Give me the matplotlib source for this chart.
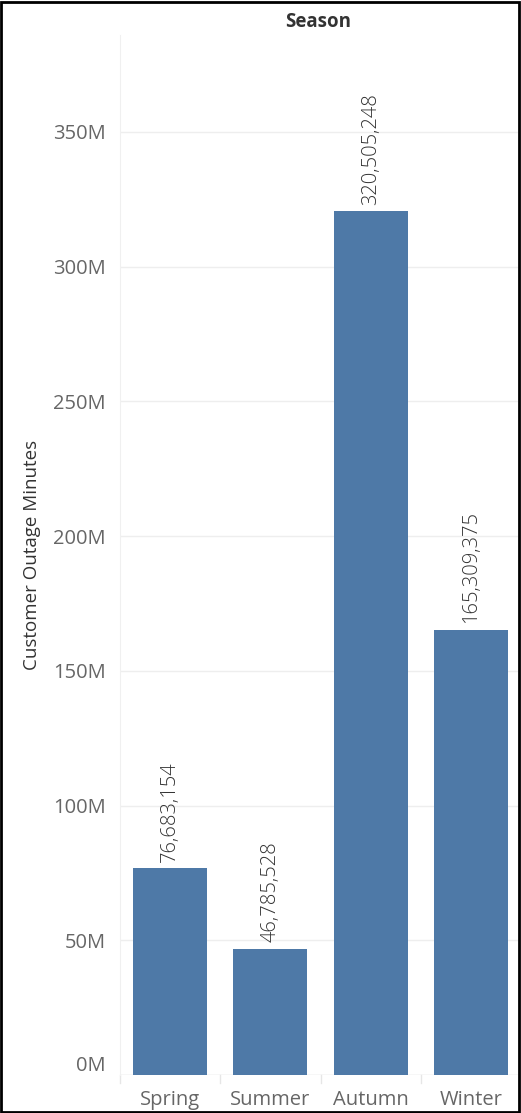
import matplotlib.pyplot as plt
from matplotlib.patches import Rectangle
from matplotlib.ticker import FuncFormatter
import matplotlib.transforms as mtransforms

# outage minutes per season
seasons = ['Spring', 'Summer', 'Autumn', 'Winter']
minutes = [76683154, 46785528, 320505248, 165309375]
yticks = [0, 50e6, 100e6, 150e6, 200e6, 250e6, 300e6, 350e6]

plt.rcParams['font.family'] = ['Open Sans', 'DejaVu Sans']

fig = plt.figure(figsize=(5.21, 11.13), dpi=100)
ax = fig.add_axes([0.2303, 0.0341, 0.7640, 0.9345])

x = range(len(seasons))
ax.bar(x, minutes, width=0.74, color='#4e79a7', zorder=3)

for i, v in enumerate(minutes):
    ax.text(i, v + 2.5e6, f'{v:,}', rotation=90, ha='center', va='bottom',
            fontsize=14.5, fontweight='light', color='#333333')

ax.set_xlim(-0.5, 3.47)
ax.set_ylim(0, 386e6)
ax.set_yticks(yticks)
ax.yaxis.set_major_formatter(FuncFormatter(lambda v, p: f'{v/1e6:.0f}M'))
ax.set_xticks(list(x))
ax.set_xticklabels(seasons)
ax.tick_params(axis='both', length=0, labelsize=14.5, labelcolor='#666666')
ax.tick_params(axis='y', pad=10)
ax.tick_params(axis='x', pad=11)

# keep the 0M label clear of the baseline
zero_lbl = ax.get_yticklabels()[0]
zero_lbl.set_transform(zero_lbl.get_transform() +
                       mtransforms.ScaledTranslation(0, 12 / 100, fig.dpi_scale_trans))

ax.grid(axis='y', color='#eeeeee', linewidth=1, zorder=0)
for s in ['top', 'right', 'bottom']:
    ax.spines[s].set_visible(False)
ax.spines['left'].set_color('#f0f0f0')
ax.axhline(0, color='#e6e6e6', linewidth=1, zorder=1)

# small separators under the axis between categories
for b in [-0.5, 0.5, 1.5, 2.5]:
    ax.plot([b, b], [0, -0.008], transform=ax.get_xaxis_transform(),
            color='#e6e6e6', linewidth=1, clip_on=False)

ax.set_ylabel('Customer Outage Minutes', fontsize=13.5, color='#333333', labelpad=9)
fig.text(0.611, 0.980, 'Season', ha='center', va='center', fontsize=13.5,
         fontweight='bold', color='#333333')

fig.patches.append(Rectangle((0.002, 0.001), 0.994, 0.997, transform=fig.transFigure,
                             fill=False, edgecolor='black', linewidth=2))

fig.savefig('out.png', dpi=100)
